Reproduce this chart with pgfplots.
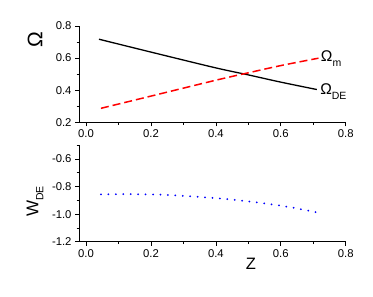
\documentclass[border=0pt]{standalone}
\usepackage{pgfplots}
\pgfplotsset{compat=1.18}
\usepackage{fontspec}
\setmainfont{Liberation Sans}
\pgfplotsset{myax/.style={
  scale only axis, width=266.7bp, height=96.4bp,
  xmin=-0.0216, xmax=0.8,
  axis x line*=bottom, axis y line*=left,
  axis line style={-, line width=0.7bp, black},
  xtick={0,0.2,0.4,0.6,0.8},
  minor xtick={0.1,0.3,0.5,0.7},
  tick align=outside,
  major tick length=4bp, minor tick length=2.5bp,
  every tick/.style={line width=0.7bp, black},
  ticklabel style={font=\fontsize{11.3bp}{13bp}\selectfont, black},
  /pgf/number format/assume math mode=true,
  /pgf/number format/fixed,
  /pgf/number format/fixed zerofill,
  /pgf/number format/precision=1,
  clip=false,
}}
\begin{document}
\begin{tikzpicture}[x=1bp,y=1bp]
\path[use as bounding box] (0,0) rectangle (373,297);
\begin{axis}[myax,
  at={(79bp,174.7bp)}, anchor=south west,
  ymin=0.2, ymax=0.8,
  ytick={0.2,0.4,0.6,0.8},
  minor ytick={0.3,0.5,0.7},
  ylabel={Ω},
  ylabel style={at={(axis description cs:-0.165,0.854)}, anchor=center, font=\fontsize{21bp}{21bp}\selectfont},
]
\addplot[black, line width=1.3bp, smooth] coordinates {
(0.040,0.717) (0.202,0.636) (0.397,0.540) (0.500,0.495) (0.600,0.450) (0.711,0.404)};
\addplot[red, line width=1.5bp, dash pattern=on 8bp off 4bp, smooth] coordinates {
(0.046,0.287) (0.202,0.364) (0.400,0.462) (0.500,0.508) (0.600,0.553) (0.716,0.599)};
\node[anchor=base west, inner sep=0pt, font=\fontsize{15.5bp}{15.5bp}\selectfont] at (axis cs:0.723,0.578) {Ω\raisebox{-5bp}{\fontsize{10.5bp}{10.5bp}\selectfont m}};
\node[anchor=base west, inner sep=0pt, font=\fontsize{15.5bp}{15.5bp}\selectfont] at (axis cs:0.721,0.370) {Ω\raisebox{-5bp}{\fontsize{10.5bp}{10.5bp}\selectfont DE}};
\end{axis}
\begin{axis}[myax,
  at={(79bp,55.3bp)}, anchor=south west,
  ymin=-1.2, ymax=-0.5,
  ytick={-1.2,-1.0,-0.8,-0.6},
  minor ytick={-1.1,-0.9,-0.7,-0.5},
  ylabel={W\raisebox{-5bp}{\fontsize{10.5bp}{10.5bp}\selectfont DE}},
  ylabel style={at={(axis description cs:-0.165,0.417)}, anchor=center, font=\fontsize{17bp}{17bp}\selectfont},
  xlabel={Z},
  xlabel style={at={(axis description cs:0.645,-0.231)}, anchor=center, font=\fontsize{16.5bp}{16.5bp}\selectfont},
]
\addplot[blue, line width=2bp, line cap=round, dash pattern=on 0bp off 7.44bp, smooth] coordinates {
(0.046,-0.856) (0.140,-0.855) (0.233,-0.859) (0.326,-0.871) (0.408,-0.885) (0.480,-0.902) (0.551,-0.922) (0.630,-0.950) (0.711,-0.987)};
\end{axis}
\end{tikzpicture}
\end{document}
